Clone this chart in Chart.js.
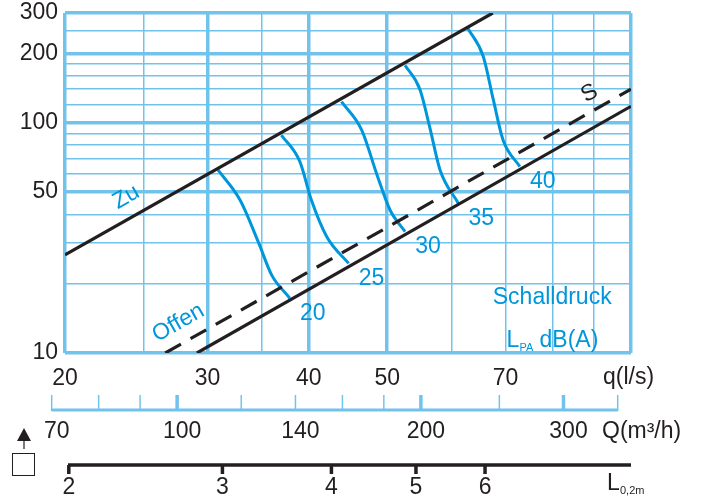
<!DOCTYPE html>
<html>
<head>
<meta charset="utf-8">
<script src="https://cdn.jsdelivr.net/npm/chart.js@4.4.1/dist/chart.umd.min.js"></script>
<style>
body { margin: 0; background: #fff; }
</style>
</head>
<body>
<canvas id="chart" width="701" height="503"></canvas>
<script>
// q (l/s) axis
const Q_GRID = [20, 25, 30, 35, 40, 50, 60, 70, 80, 90, 100];
const Q_LABELS = [20, 30, 40, 50, 70];
const Q_MAJOR = [20, 30, 40, 50, 100];

// pressure axis
const P_GRID = [10, 20, 30, 40, 50, 60, 70, 80, 90, 100, 120, 140, 160, 180, 200, 250, 300];
const P_LABELS = [10, 50, 100, 200, 300];
const P_MAJOR = [10, 50, 100, 200, 300];

// Q (m3/h) scale
const QM_TICKS = [70, 80, 90, 100, 120, 140, 160, 180, 200, 250, 300, 350];
const QM_MAJOR = [100, 200, 300];
const QM_LABELS = [70, 100, 140, 200, 300];

// L 0,2m scale
const L_TICKS = [2, 3, 4, 5, 6];

// damper lines
const ZU_Q = [20, 67.5];
const ZU_P = [26.7, 300];
const OFFEN_Q = [29.1, 100];
const OFFEN_P = [10, 118];
const S_Q = [26.6, 100];
const S_P = [10, 140];

// sound pressure curves LPA dB(A)
const DB_LEVELS = ['20', '25', '30', '35', '40'];
const DB20_Q = [30.9, 32.9, 34.7, 36.0, 37.9];
const DB20_P = [62.4, 46.2, 30.0, 21.8, 17.3];
const DB25_Q = [37.0, 39.0, 40.3, 42.1, 44.8];
const DB25_P = [88.5, 67.8, 46.2, 32.0, 24.5];
const DB30_Q = [43.9, 46.5, 48.5, 50.4, 52.6];
const DB30_P = [123.5, 93.0, 60.3, 41.8, 33.7];
const DB35_Q = [52.6, 54.9, 56.4, 58.1, 61.2];
const DB35_P = [178, 139, 96.2, 62.4, 44.7];
const DB40_Q = [62.9, 65.7, 67.6, 69.5, 72.9];
const DB40_P = [257, 194, 126, 84.2, 64.5];

const BLUE = '#0096db';
const GRID = '#72c3ec';
const INK = '#231f20';
const FONT = '"Liberation Sans", Arial, sans-serif';

Chart.defaults.font.family = FONT;
Chart.defaults.color = INK;

function pts(qs, ps) {
	return qs.map((q, i) => ({ x: q, y: ps[i] }));
}

const curves = [
	[DB20_Q, DB20_P], [DB25_Q, DB25_P], [DB30_Q, DB30_P], [DB35_Q, DB35_P], [DB40_Q, DB40_P]
];

const datasets = [
	{ data: pts(ZU_Q, ZU_P), borderColor: INK, borderWidth: 3.2 },
	{ data: pts(OFFEN_Q, OFFEN_P), borderColor: INK, borderWidth: 3.2 },
	{ data: pts(S_Q, S_P), borderColor: INK, borderWidth: 3.2, borderDash: [18, 11] }
];
curves.forEach(([qs, ps]) => {
	datasets.push({ data: pts(qs, ps), borderColor: BLUE, borderWidth: 3, cubicInterpolationMode: 'monotone' });
});

function text(ctx, str, x, y, opts) {
	opts = opts || {};
	ctx.save();
	ctx.translate(x, y);
	if (opts.angle) ctx.rotate(opts.angle * Math.PI / 180);
	ctx.font = (opts.size || 23) + 'px ' + FONT;
	ctx.fillStyle = opts.color || INK;
	ctx.textAlign = opts.align || 'center';
	ctx.textBaseline = opts.baseline || 'middle';
	ctx.fillText(str, 0, 0);
	ctx.restore();
}

const annotations = {
	id: 'annotations',
	afterDraw(chart) {
		const ctx = chart.ctx;
		const { x, y, xQ, xL } = chart.scales;

		// line names
		text(ctx, 'Zu', x.getPixelForValue(23.8), y.getPixelForValue(47.6), { color: BLUE, angle: -29.6 });
		text(ctx, 'Offen', x.getPixelForValue(27.6), y.getPixelForValue(13.5), { color: BLUE, angle: -29.6 });
		text(ctx, 'S', x.getPixelForValue(88.9), y.getPixelForValue(134), { angle: -29.6 });

		// dB labels at curve ends
		DB_LEVELS.forEach((lbl, i) => {
			const pts = chart.getDatasetMeta(3 + i).data;
			const last = pts[pts.length - 1];
			text(ctx, lbl, last.x + 23, last.y + 15, { color: BLUE });
		});

		// Schalldruck legend
		const sx = x.getPixelForValue(67.5);
		text(ctx, 'Schalldruck', sx, y.getPixelForValue(17.4), { color: BLUE, align: 'left' });
		const lx = x.getPixelForValue(70.2);
		const ly = y.getPixelForValue(10.6);
		text(ctx, 'L', lx, ly, { color: BLUE, align: 'left', baseline: 'alphabetic' });
		text(ctx, 'PA', lx + 13, ly + 4, { color: BLUE, align: 'left', baseline: 'alphabetic', size: 11 });
		text(ctx, 'dB(A)', lx + 33, ly, { color: BLUE, align: 'left', baseline: 'alphabetic' });

		// q axis unit
		text(ctx, 'q(l/s)', 603, 378, { align: 'left' });

		// Q (m3/h) scale
		const qy = 410;
		ctx.save();
		ctx.strokeStyle = GRID;
		ctx.lineWidth = 3;
		ctx.beginPath();
		ctx.moveTo(xQ.getPixelForValue(QM_TICKS[0]), qy);
		ctx.lineTo(xQ.getPixelForValue(QM_TICKS[QM_TICKS.length - 1]), qy);
		ctx.stroke();
		QM_TICKS.forEach((v) => {
			const px = xQ.getPixelForValue(v);
			ctx.lineWidth = QM_MAJOR.includes(v) ? 3.5 : 1.5;
			ctx.beginPath();
			ctx.moveTo(px, qy + 1);
			ctx.lineTo(px, qy - 15);
			ctx.stroke();
		});
		ctx.restore();
		QM_LABELS.forEach((v) => {
			text(ctx, String(v), xQ.getPixelForValue(v) + 5, 432);
		});
		text(ctx, 'Q(m³/h)', 602, 432, { align: 'left' });

		// L 0,2m scale
		const ly2 = 465;
		ctx.save();
		ctx.strokeStyle = INK;
		ctx.lineWidth = 3.5;
		ctx.beginPath();
		ctx.moveTo(xL.left + 3, ly2);
		ctx.lineTo(xL.right, ly2);
		ctx.stroke();
		L_TICKS.forEach((v) => {
			const px = xL.getPixelForValue(v);
			ctx.beginPath();
			ctx.moveTo(px, ly2);
			ctx.lineTo(px, ly2 + 9);
			ctx.stroke();
		});
		ctx.restore();
		L_TICKS.forEach((v) => {
			text(ctx, String(v), xL.getPixelForValue(v), 488);
		});
		text(ctx, 'L', 607, 490, { align: 'left', baseline: 'alphabetic' });
		text(ctx, '0,2m', 620, 494, { align: 'left', baseline: 'alphabetic', size: 11 });

		// arrow + box symbol
		ctx.save();
		ctx.fillStyle = INK;
		ctx.strokeStyle = INK;
		ctx.beginPath();
		ctx.moveTo(24, 428);
		ctx.lineTo(31, 441);
		ctx.lineTo(17, 441);
		ctx.closePath();
		ctx.fill();
		ctx.lineWidth = 1.2;
		ctx.beginPath();
		ctx.moveTo(24, 440);
		ctx.lineTo(24, 449);
		ctx.stroke();
		ctx.lineWidth = 1;
		ctx.strokeRect(12.5, 453.5, 22, 22);
		ctx.restore();
	}
};

new Chart(document.getElementById('chart'), {
	type: 'line',
	data: { datasets: datasets },
	options: {
		responsive: false,
		animation: false,
		layout: { padding: { top: 13, right: 70, left: 0, bottom: 0 } },
		plugins: { legend: { display: false }, tooltip: { enabled: false } },
		elements: { point: { radius: 0 } },
		scales: {
			x: {
				type: 'logarithmic',
				position: 'bottom',
				min: 20,
				max: 100,
				afterBuildTicks: (s) => { s.ticks = Q_GRID.map((v) => ({ value: v })); },
				afterFit: (s) => { s.height = 150; s.paddingLeft = 0; s.paddingRight = 0; },
				grid: {
					color: GRID,
					lineWidth: (c) => (c.tick && Q_MAJOR.includes(c.tick.value)) ? 3.5 : 1.5,
					drawTicks: false
				},
				border: { display: false },
				ticks: {
					autoSkip: false,
					maxRotation: 0,
					padding: 12,
					color: INK,
					font: { size: 23 },
					callback: (v) => Q_LABELS.includes(v) ? String(v) : ''
				}
			},
			y: {
				type: 'logarithmic',
				position: 'left',
				min: 10,
				max: 300,
				afterBuildTicks: (s) => { s.ticks = P_GRID.map((v) => ({ value: v })); },
				afterFit: (s) => { s.width = 65; s.paddingTop = 0; s.paddingBottom = 0; },
				grid: {
					color: GRID,
					lineWidth: (c) => (c.tick && P_MAJOR.includes(c.tick.value)) ? 3.5 : 1.5,
					drawTicks: false
				},
				border: { display: false },
				ticks: {
					autoSkip: false,
					padding: 7,
					color: INK,
					font: { size: 23 },
					callback: (v) => P_LABELS.includes(v) ? String(v) : ''
				}
			},
			xQ: { type: 'logarithmic', position: 'bottom', display: false, min: 72.7, max: 363.5 },
			xL: { type: 'logarithmic', position: 'bottom', display: false, min: 1.98, max: 8.82 }
		}
	},
	plugins: [annotations]
});
</script>
</body>
</html>
